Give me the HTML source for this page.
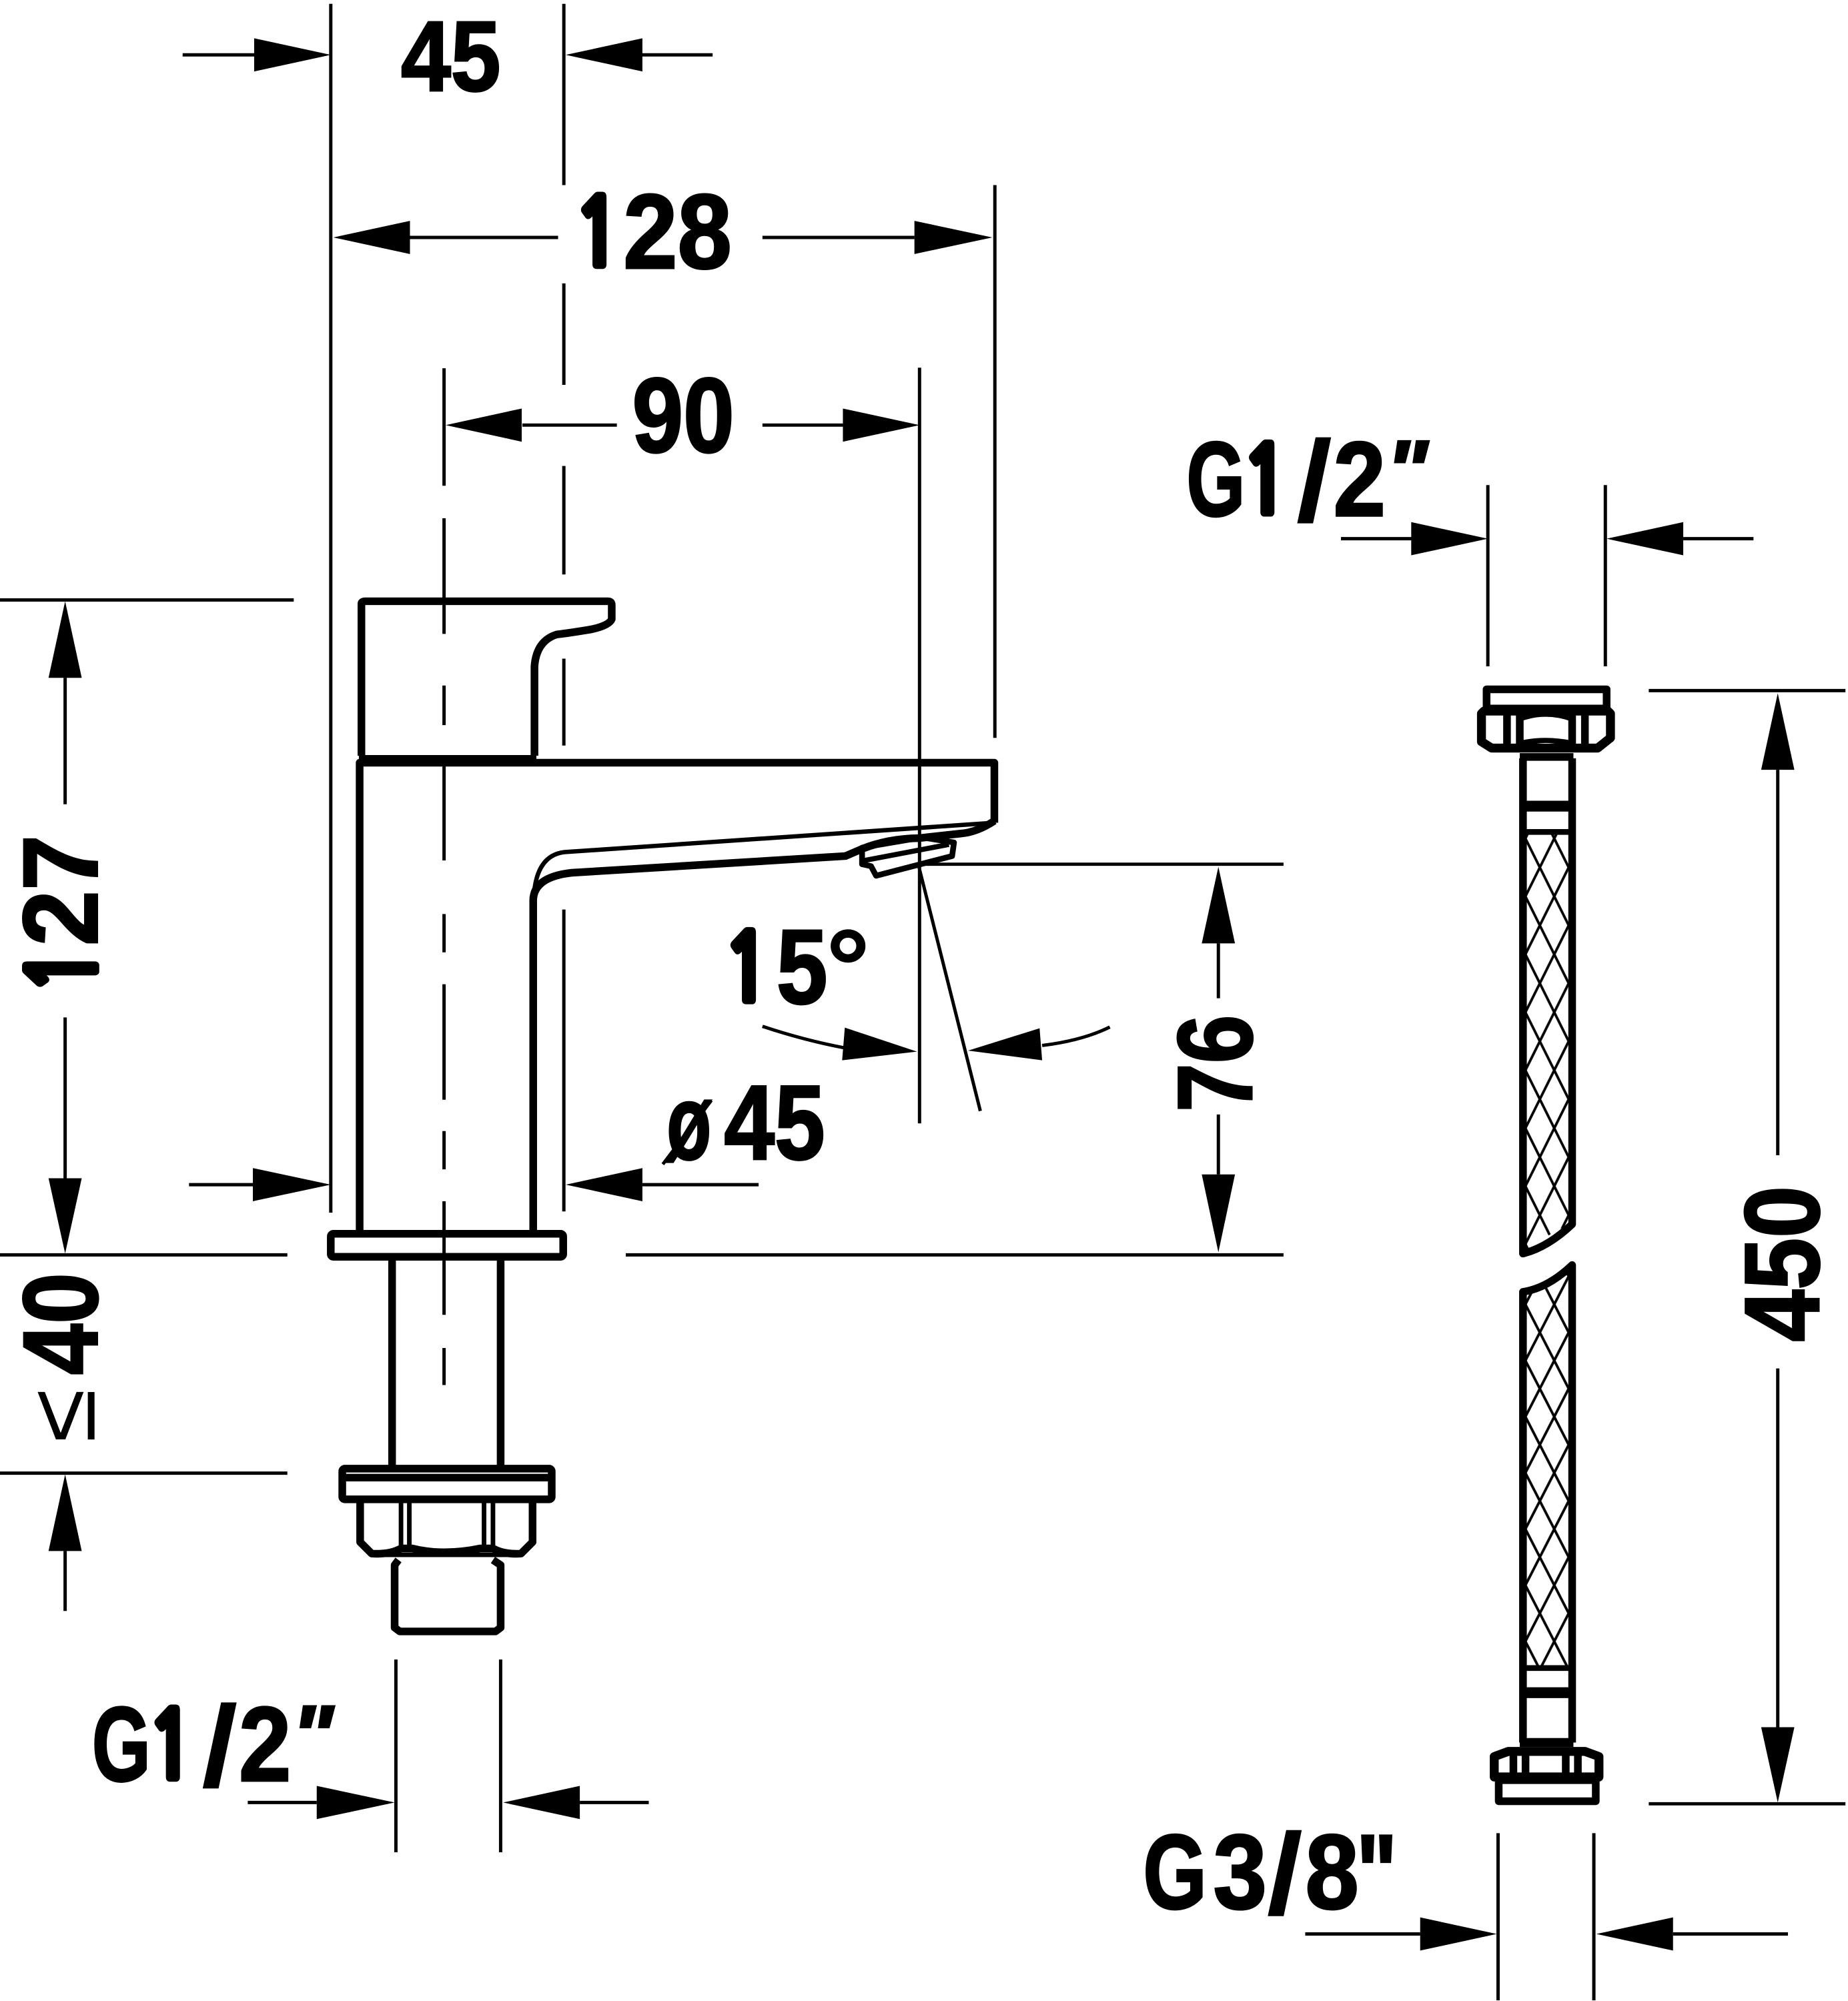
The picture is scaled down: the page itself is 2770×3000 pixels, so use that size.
<!DOCTYPE html>
<html>
<head>
<meta charset="utf-8">
<style>
html,body{margin:0;padding:0;background:#fff}
svg{display:block}
.t{font-family:"Liberation Sans Narrow","Liberation Sans",sans-serif;font-weight:700;font-size:83px;fill:#000;stroke:#000;stroke-width:1.6}
.o{font-family:"NanumGothic","Liberation Sans",sans-serif;font-weight:700;font-size:73px;fill:#000;stroke:#000;stroke-width:5}
.s{font-family:"Liberation Sans Narrow","Liberation Sans",sans-serif;font-weight:700;font-size:90px;fill:#000;stroke:#000;stroke-width:.4}
.n{fill:none;stroke:#000;stroke-width:2.6}
.m{fill:none;stroke:#000;stroke-width:4.5;stroke-linejoin:round}
.h{fill:none;stroke:#000;stroke-width:6;stroke-linejoin:round}
.a{fill:#000}
.w{fill:none;stroke:#000;stroke-width:2}
</style>
</head>
<body>
<svg xmlns="http://www.w3.org/2000/svg" width="2770" height="3000" viewBox="0 0 1447 1567.5" preserveAspectRatio="none">
<defs>
<pattern id="p1" patternUnits="userSpaceOnUse" x="1194.4" y="656.8" width="22.6" height="45.4">
<path class="w" d="M0 0L22.6 45.4M22.6 0L0 45.4"/>
</pattern>
<pattern id="p2" patternUnits="userSpaceOnUse" x="1194.4" y="1021.8" width="22.6" height="44">
<path class="w" d="M0 0L22.6 44M22.6 0L0 44"/>
</pattern>
</defs>
<rect width="1447" height="1567.5" fill="#fff"/>

<!-- extension lines -->
<path class="n" d="M259 3V950M441.5 3V145M441.5 222V301.5M441.5 365V450M441.5 516V584M441.5 712.5V949M779 145V578M720 288V880M719 677L767.6 870.3"/>
<path class="n" d="M0 470H230M0 983H225M0 1154H225M490 983H1005M720 677H1005"/>
<path class="n" d="M1165 380V522M1257 380V522M1291 541H1445M1291 1413H1445M310 1300V1451M392 1300V1451M1173 1436V1567M1248 1436V1567"/>
<!-- centre line -->
<path class="n" d="M347.7 288.5V380.5M347.7 406V496.6M347.7 537V568M347.7 592V674M347.7 716V746M347.7 771V861.5M347.7 886V916M347.7 941V1030M347.7 1056V1085"/>

<!-- dimension lines -->
<path class="n" d="M143 43H200M500 43H558M320 186H437M597 186H716M409 333H483M597 333H660"/>
<path class="n" d="M1050 422H1106M1318 422H1373M1392 603V905M1392 1072V1353M51 531V630M51 797V923M51 1215V1262M954 739V782M954 873V920"/>
<path class="n" d="M148 928H198M503 928H594M194 1412H248M454 1412H508M1022 1515H1112M1310 1515H1400"/>
<path class="n" d="M597 804Q630 815 662 821M816 819Q848 815 869 804.5"/>

<!-- arrowheads -->
<polygon class="a" points="259,43 199,30 199,56"/>
<polygon class="a" points="443,43 503,30 503,56"/>
<polygon class="a" points="261,186 321,173 321,199"/>
<polygon class="a" points="777,186 716,173 716,199"/>
<polygon class="a" points="349,333 408.5,320 408.5,346"/>
<polygon class="a" points="720,333 660,320 660,346"/>
<polygon class="a" points="1165,422 1105,409 1105,435"/>
<polygon class="a" points="1258,422 1318,409 1318,435"/>
<polygon class="a" points="1392,543 1379,603 1405,603"/>
<polygon class="a" points="1392,1412 1379,1353 1405,1353"/>
<polygon class="a" points="51,471 38,531 64,531"/>
<polygon class="a" points="51,982 38,923 64,923"/>
<polygon class="a" points="51,1155 38,1215 64,1215"/>
<polygon class="a" points="954,679 941,739 967,739"/>
<polygon class="a" points="954,981 941,920 967,920"/>
<polygon class="a" points="259,928 198,915 198,941"/>
<polygon class="a" points="443,928 503,915 503,941"/>
<polygon class="a" points="309,1412 248,1399 248,1425"/>
<polygon class="a" points="394,1412 454,1399 454,1425"/>
<polygon class="a" points="1172,1515 1112,1502 1112,1528"/>
<polygon class="a" points="1250,1515 1310,1502 1310,1528"/>
<polygon class="a" points="718,823.8 661.5,805 659.4,830.6"/>
<polygon class="a" points="758,823 814,805.5 816,830.6"/>

<!-- faucet handle -->
<path class="h" d="M283 592V473Q283 471 286 471H476Q479 471 479 474V485Q477 490 463 493Q445 496 436 497Q420 502 418.5 522V592"/>
<path d="M281 591.5H420V599H281Z" fill="#000"/>
<!-- faucet body -->
<path class="h" d="M281.6 966V597.5H778.6V644.5"/>
<path class="m" style="stroke-width:3.4" d="M778.6 644.5L442 667.5Q420 670 418 702"/>
<path class="h" d="M417.5 966V705Q418 687 447.6 683.7L662 670.6L675 665Q695 657 719 656.6L752 653Q765 652 778.6 643"/>
<!-- aerator -->
<path class="m" d="M675 664L675 677L682 678.5L686 686L745.5 670.6L747 660L722 656Z"/>
<path class="m" style="stroke-width:4" d="M677 674L743 661.5"/>
<!-- flange -->
<rect x="259" y="966.5" width="182" height="18" rx="2" class="h"/>
<path class="h" d="M307 986V1148M392 986V1148"/>
<!-- lower flange -->
<rect x="268" y="1150.5" width="164" height="24" rx="2" class="h"/>
<path class="h" d="M268 1157.5H432"/>
<!-- nut -->
<path class="h" d="M282 1175V1208L291 1217Q305 1218 314 1213L323 1213Q347 1219 376 1213L386 1213Q395 1218 408 1217L417 1208V1175"/>
<path class="m" style="stroke-width:3.6" d="M314 1175V1213M320.5 1175V1213M379 1175V1213M386 1175V1213M291 1218H408"/>
<!-- stub -->
<path class="h" d="M312 1222L309 1226V1275L313 1278H388L392 1275V1226L386 1222"/>

<!-- hose top -->
<rect x="1164" y="540" width="94" height="15" class="h"/>
<path class="h" style="stroke-width:7" d="M1162 557H1259L1261 559V578L1251 586H1168L1160 581V559Z"/>
<path class="h" d="M1180 557V586M1190 557V586M1231 557V586M1241 557V586"/>
<path d="M1191 555Q1210 562 1230 555V565Q1210 558 1191 565Z M1191 586Q1210 578 1230 586V580Q1210 576 1191 580Z" fill="#000"/>
<path class="h" d="M1190 593H1232"/>
<path class="h" style="stroke-width:8.5" d="M1190 631.5H1232"/>
<path class="h" style="stroke-width:4.5" d="M1190 651.7H1232"/>
<!-- hose mesh -->
<clipPath id="c1"><path d="M1191 652H1231V958Q1210 968 1191 982Z"/></clipPath>
<clipPath id="c2"><path d="M1191 1012Q1212 1008 1231 990V1306H1191Z"/></clipPath>
<rect x="1191" y="652" width="40" height="332" fill="url(#p1)" clip-path="url(#c1)"/>
<rect x="1191" y="988" width="40" height="320" fill="url(#p2)" clip-path="url(#c2)"/>
<path class="h" d="M1192.5 594V982Q1212 977 1231 959V594"/>
<path class="h" d="M1192.5 1365V1012Q1212 1009 1231 991V1365"/>
<!-- hose bottom -->
<path class="h" style="stroke-width:4.5" d="M1190 1306.7H1232"/>
<path class="h" style="stroke-width:8.5" d="M1190 1326H1232"/>
<path class="h" style="stroke-width:7" d="M1190 1365H1232"/>
<path class="h" style="stroke-width:7" d="M1170 1376L1181 1372H1241L1252 1376V1392H1170Z"/>
<path class="h" d="M1185 1372V1393M1194.5 1372V1393M1226 1372V1393M1235.5 1372V1393"/>
<path d="M1195 1370Q1210 1374 1226 1370V1376Q1210 1372 1195 1376Z M1195 1393Q1210 1386 1226 1393Z" fill="#000"/>
<rect x="1173.5" y="1394.5" width="76" height="16.5" class="h"/>

<!-- texts -->
<text class="t" style="font-size:78px" x="314" y="71" textLength="78" lengthAdjust="spacingAndGlyphs">45</text>

<text class="o" x="449" y="208" textLength="38" lengthAdjust="spacingAndGlyphs">1</text>
<text class="t" x="488" y="210" textLength="85" lengthAdjust="spacingAndGlyphs">28</text>

<text class="t" x="495" y="354" textLength="80" lengthAdjust="spacingAndGlyphs">90</text>

<text class="t" x="929" y="404" textLength="46" lengthAdjust="spacingAndGlyphs">G</text>
<text class="o" x="972" y="402" textLength="38" lengthAdjust="spacingAndGlyphs">1</text>
<text class="s" x="1015" y="408" textLength="28" lengthAdjust="spacingAndGlyphs">/</text>
<text class="t" x="1044" y="404" textLength="41" lengthAdjust="spacingAndGlyphs">2</text>
<text class="t" style="font-style:italic;font-size:66px" x="1085" y="391" textLength="33" lengthAdjust="spacingAndGlyphs">"</text>

<text class="o" x="566" y="784" textLength="38" lengthAdjust="spacingAndGlyphs">1</text>
<text class="t" x="608" y="786" textLength="40" lengthAdjust="spacingAndGlyphs">5</text>
<text class="t" style="stroke-width:.6" x="647" y="786" textLength="34" lengthAdjust="spacingAndGlyphs">°</text>

<text class="t" x="522" y="908" textLength="35" lengthAdjust="spacingAndGlyphs">ø</text>
<text class="t" x="567" y="908" textLength="79" lengthAdjust="spacingAndGlyphs">45</text>
<path class="n" d="M557 862L519 912"/>

<text class="t" x="72" y="1395" textLength="46" lengthAdjust="spacingAndGlyphs">G</text>
<text class="o" x="115" y="1393" textLength="38" lengthAdjust="spacingAndGlyphs">1</text>
<text class="s" x="158" y="1399" textLength="28" lengthAdjust="spacingAndGlyphs">/</text>
<text class="t" x="187" y="1395" textLength="41" lengthAdjust="spacingAndGlyphs">2</text>
<text class="t" style="font-style:italic;font-size:66px" x="228" y="1382" textLength="33" lengthAdjust="spacingAndGlyphs">"</text>

<text class="t" x="895" y="1495" textLength="50" lengthAdjust="spacingAndGlyphs">G</text>
<text class="t" x="950" y="1495" textLength="42" lengthAdjust="spacingAndGlyphs">3</text>
<text class="s" x="992" y="1499" textLength="28" lengthAdjust="spacingAndGlyphs">/</text>
<text class="t" x="1022" y="1495" textLength="42" lengthAdjust="spacingAndGlyphs">8</text>
<text class="t" x="1062" y="1495" textLength="32" lengthAdjust="spacingAndGlyphs">"</text>

<text class="o" transform="translate(75 779) rotate(-90)" x="0" y="0" textLength="38" lengthAdjust="spacingAndGlyphs">1</text>
<text class="t" transform="translate(76 741) rotate(-90)" textLength="87" lengthAdjust="spacingAndGlyphs" x="0" y="0">27</text>
<text class="t" transform="translate(76 1077) rotate(-90)" textLength="80" lengthAdjust="spacingAndGlyphs" x="0" y="0">40</text>
<text transform="translate(74 1130) rotate(-90)" x="0" y="0" textLength="42" lengthAdjust="spacingAndGlyphs" style="font-family:'Liberation Sans',sans-serif;font-size:74px;fill:#000">≤</text>
<text class="t" transform="translate(980 871) rotate(-90)" textLength="76" lengthAdjust="spacingAndGlyphs" x="0" y="0">76</text>
<text class="t" transform="translate(1424 1051) rotate(-90)" textLength="122" lengthAdjust="spacingAndGlyphs" x="0" y="0">450</text>
</svg>
</body>
</html>
